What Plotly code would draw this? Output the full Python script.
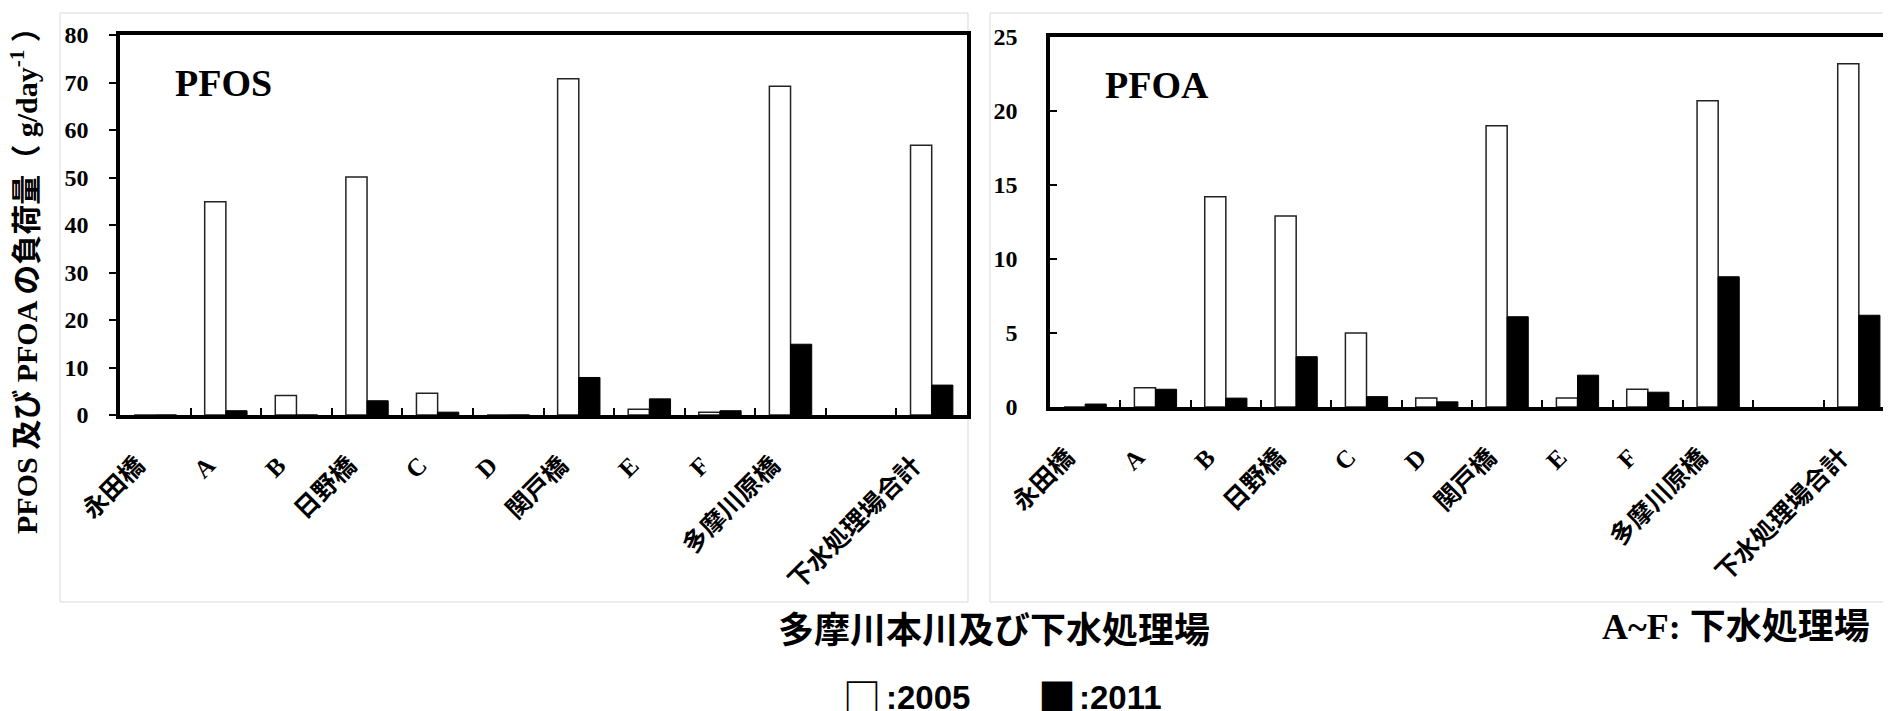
import plotly.graph_objects as go

W, H = 1891, 711
OFF = 8  # page body margin of the browser

categories = ["永田橋", "A", "B", "日野橋", "C", "D", "関戸橋", "E", "F", "多摩川原橋", " ", "下水処理場合計"]
pfos_2005 = [0, 44.9, 4.1, 50.1, 4.6, 0, 70.8, 1.2, 0.6, 69.2, None, 56.8]
pfos_2011 = [0, 0.9, 0, 3.0, 0.6, 0, 7.9, 3.4, 0.9, 14.9, None, 6.3]
pfoa_2005 = [0, 1.3, 14.2, 12.9, 5.0, 0.6, 19.0, 0.6, 1.2, 20.7, None, 23.2]
pfoa_2011 = [0.2, 1.2, 0.6, 3.4, 0.7, 0.35, 6.1, 2.15, 1.0, 8.8, None, 6.2]
pfos_yticks = [0, 10, 20, 30, 40, 50, 60, 70, 80]
pfoa_yticks = [0, 5, 10, 15, 20, 25]

SERIF = "Liberation Serif, Noto Sans CJK JP"


def px(x):
    return (x - OFF) / W


def py(y):
    return 1 - (y - OFF) / H


fig = go.Figure()

white_style = dict(color="white", line=dict(color="#222", width=1.5))
black_style = dict(color="black", line=dict(color="black", width=1))

fig.add_trace(go.Bar(x=categories, y=pfos_2005, marker=white_style, xaxis="x", yaxis="y", showlegend=False))
fig.add_trace(go.Bar(x=categories, y=pfos_2011, marker=black_style, xaxis="x", yaxis="y", showlegend=False))
fig.add_trace(go.Bar(x=categories, y=pfoa_2005, marker=white_style, xaxis="x2", yaxis="y2", showlegend=False))
fig.add_trace(go.Bar(x=categories, y=pfoa_2011, marker=black_style, xaxis="x2", yaxis="y2", showlegend=False))

xcommon = dict(
    type="category", categoryorder="array", categoryarray=categories,
    showline=True, linecolor="black", linewidth=3.5, mirror=True,
    ticks="inside", tickson="boundaries", ticklen=7, tickwidth=1.5, tickcolor="black",
    tickangle=-45, showgrid=False, zeroline=False, automargin=False,
    tickfont=dict(family=SERIF, size=25, color="black", weight="bold"),
    ticklabelstandoff=22, ticklabelshift=-18,
)
ycommon = dict(
    showline=True, linecolor="black", linewidth=3.5, showgrid=False, zeroline=False,
    tickcolor="black", ticklen=7, tickwidth=1.5, automargin=False,
    tickfont=dict(family=SERIF, size=24, color="black", weight="bold"),
)

fig.update_layout(
    template="none",
    width=W, height=H, autosize=False,
    margin=dict(l=0, r=0, t=0, b=0, pad=0),
    paper_bgcolor="white", plot_bgcolor="white",
    barmode="group", bargap=0.4, bargroupgap=0,
    xaxis=dict(domain=[px(120), px(967)], anchor="y", range=[-0.5, 11.5], **xcommon),
    yaxis=dict(domain=[py(415), py(35)], anchor="x", range=[0, 80], tickvals=pfos_yticks,
               ticks="outside", mirror=True, ticklabelstandoff=16, **ycommon),
    xaxis2=dict(domain=[px(1050), px(1894)], anchor="y2", range=[-0.5, 11.5], **xcommon),
    yaxis2=dict(domain=[py(407), py(37)], anchor="x2", range=[0, 25], tickvals=pfoa_yticks,
                ticks="inside", mirror=False, ticklabelstandoff=24, **ycommon),
)

# light gray panel borders
for x0, x1 in [(60, 968), (990, 1905)]:
    fig.add_shape(type="rect", xref="paper", yref="paper",
                  x0=px(x0), x1=px(x1), y0=py(602), y1=py(13),
                  line=dict(color="#d9d9d9", width=1), layer="below")

ann = [
    dict(text="PFOS", x=px(173), y=py(83), xanchor="left", yanchor="middle",
         font=dict(family=SERIF, size=38, color="black", weight="bold")),
    dict(text="PFOA", x=px(1103), y=py(85), xanchor="left", yanchor="middle",
         font=dict(family=SERIF, size=38, color="black", weight="bold")),
    dict(text="PFOS 及び PFOA の負荷量（ g/day<sup>-1</sup> ）", x=px(24), y=py(273),
         xanchor="center", yanchor="middle", textangle=-90,
         font=dict(family=SERIF, size=30, color="black", weight="bold")),
    dict(text="多摩川本川及び下水処理場", x=px(994), y=py(627), xanchor="center", yanchor="middle",
         font=dict(family="Noto Sans CJK JP", size=36, color="black", weight="bold")),
    dict(text="A~F: 下水処理場", x=px(1872), y=py(627), xanchor="right", yanchor="middle",
         font=dict(family=SERIF, size=36, color="black", weight="bold")),
    dict(text="□", x=px(841), y=py(694), xanchor="left", yanchor="middle",
         font=dict(family="Noto Sans CJK JP", size=38, color="black", weight="bold")),
    dict(text=":2005", x=px(884), y=py(697), xanchor="left", yanchor="middle",
         font=dict(family="Liberation Sans", size=33, color="black", weight="bold")),
    dict(text="■", x=px(1036), y=py(694), xanchor="left", yanchor="middle",
         font=dict(family="Noto Sans CJK JP", size=38, color="black", weight="bold")),
    dict(text=":2011", x=px(1077), y=py(697), xanchor="left", yanchor="middle",
         font=dict(family="Liberation Sans", size=33, color="black", weight="bold")),
]
for a in ann:
    fig.add_annotation(xref="paper", yref="paper", showarrow=False, **a)

fig.write_html("out.html")
